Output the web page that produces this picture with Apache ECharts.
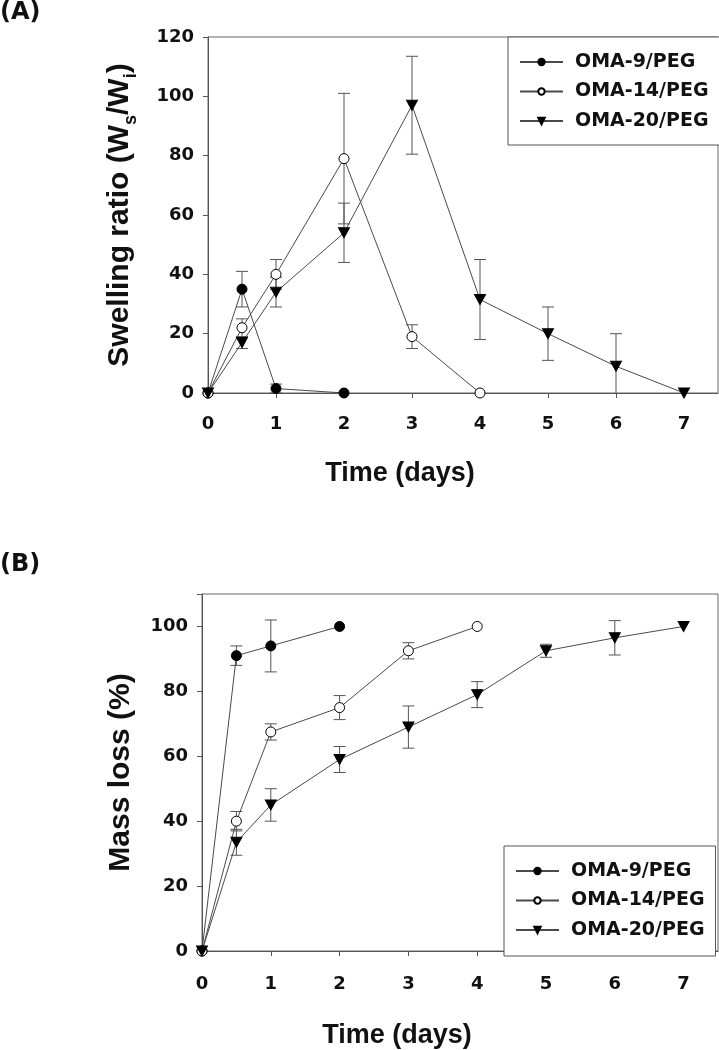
<!DOCTYPE html>
<html>
<head>
<meta charset="utf-8">
<script src="https://cdn.jsdelivr.net/npm/echarts@6/dist/echarts.min.js"></script>
<style>
html,body{margin:0;padding:0;background:#fff;}
#chart{width:719px;height:1050px;}
</style>
</head>
<body>
<div id="chart"></div>
<script>
// ---------- data ----------
var seriesNames = ['OMA-9/PEG', 'OMA-14/PEG', 'OMA-20/PEG'];
var xTickLabels = ['0', '1', '2', '3', '4', '5', '6', '7'];

// Panel A: swelling ratio (Ws/Wi)
var swellDays9  = [0, 0.5, 1, 2];
var swell9      = [0, 35, 1.5, 0];
var swell9Err   = [0, 6, 1.5, 0];

var swellDays14 = [0, 0.5, 1, 2, 3, 4];
var swell14     = [0, 22, 40, 79, 19, 0];
var swell14Err  = [0, 3, 5, 22, 4, 0];

var swellDays20 = [0, 0.5, 1, 2, 3, 4, 5, 6, 7];
var swell20     = [0, 17, 34, 54, 97, 31.5, 20, 9, 0];
var swell20Err  = [0, 2, 5, 10, 16.5, 13.5, 9, 11, 0];

// Panel B: mass loss (%)
var massDays9  = [0, 0.5, 1, 2];
var mass9      = [0, 91, 94, 100];
var mass9Err   = [0, 3, 8, 0];

var massDays14 = [0, 0.5, 1, 2, 3, 4];
var mass14     = [0, 40, 67.5, 75, 92.5, 100];
var mass14Err  = [0, 3, 2.5, 3.7, 2.5, 0];

var massDays20 = [0, 0.5, 1, 2, 3, 4, 5, 6, 7];
var mass20     = [0, 33.5, 45, 59, 69, 79, 92.5, 96.5, 100];
var mass20Err  = [0, 4, 5, 4, 6.5, 4, 2, 5.3, 0];

// ---------- helpers ----------
function pts(xs, ys) { return xs.map(function (x, i) { return [x, ys[i]]; }); }
function errPts(xs, ys, es) {
  var out = [];
  xs.forEach(function (x, i) { if (es[i] > 0) out.push([x, ys[i], es[i]]); });
  return out;
}

var tickFont = 'DejaVu Sans';
var titleFont = 'Liberation Sans';
var lineColor = '#4a4a4a';
var axisColor = '#555';

var symbols = [
  { symbol: 'circle', size: 10, color: '#000', border: '#000' },
  { symbol: 'circle', size: 10, color: '#fff', border: '#000' },
  { symbol: 'triangle', size: [11, 10], color: '#000', border: '#000', rotate: 180 }
];

function lineSeries(name, idx, data, gridIdx) {
  var s = symbols[idx];
  return {
    type: 'line', name: name, data: data,
    xAxisIndex: gridIdx, yAxisIndex: gridIdx,
    symbol: s.symbol, symbolSize: s.size, symbolRotate: s.rotate || 0,
    showAllSymbol: true, animation: false, z: 5,
    lineStyle: { color: lineColor, width: 1 },
    itemStyle: { color: s.color, borderColor: s.border, borderWidth: 1, opacity: 1 },
    emphasis: { disabled: true }
  };
}

function errorSeries(name, data, gridIdx) {
  return {
    type: 'custom', name: name + ' err', data: data,
    xAxisIndex: gridIdx, yAxisIndex: gridIdx,
    clip: true, animation: false, z: 3, silent: true,
    renderItem: function (params, api) {
      var x = api.value(0), y = api.value(1), e = api.value(2);
      var top = api.coord([x, y + e]);
      var bot = api.coord([x, y - e]);
      var hw = 6;
      var st = { stroke: '#555', lineWidth: 1 };
      return {
        type: 'group',
        children: [
          { type: 'line', shape: { x1: top[0], y1: top[1], x2: bot[0], y2: bot[1] }, style: st },
          { type: 'line', shape: { x1: top[0] - hw, y1: top[1], x2: top[0] + hw, y2: top[1] }, style: st },
          { type: 'line', shape: { x1: bot[0] - hw, y1: bot[1], x2: bot[0] + hw, y2: bot[1] }, style: st }
        ]
      };
    }
  };
}

function xAxis(gridIdx, nameGap, labelMargin) {
  return {
    type: 'value', gridIndex: gridIdx, min: 0, max: 7.5, interval: 1,
    name: 'Time (days)', nameLocation: 'middle', nameGap: nameGap,
    nameTextStyle: { fontFamily: titleFont, fontWeight: 'bold', fontSize: 27, color: '#111', padding: [0, 126, 0, 0] },
    axisLine: { show: true, lineStyle: { color: axisColor, width: 1 } },
    axisTick: { show: true, inside: false, length: 5, lineStyle: { color: axisColor } },
    splitLine: { show: false },
    axisLabel: {
      fontFamily: tickFont, fontWeight: 'bold', fontSize: 18, color: '#111', margin: labelMargin,
      showMaxLabel: false,
      formatter: function (v) { return Number.isInteger(v) ? xTickLabels[v] : ''; }
    }
  };
}

function yAxis(gridIdx, max, name, nameGap, rich) {
  var ts = { fontFamily: titleFont, fontWeight: 'bold', fontSize: 30, color: '#111', lineHeight: 30 };
  if (rich) ts.rich = rich;
  return {
    type: 'value', gridIndex: gridIdx, min: 0, max: max, interval: 20,
    name: name, nameLocation: 'middle', nameGap: nameGap,
    nameTextStyle: ts,
    axisLine: { show: true, lineStyle: { color: axisColor, width: 1 } },
    axisTick: { show: true, inside: false, length: 5, lineStyle: { color: axisColor } },
    splitLine: { show: false },
    axisLabel: {
      fontFamily: tickFont, fontWeight: 'bold', fontSize: 18, color: '#111', margin: 14,
      formatter: function (v) { return (v % 20 === 0) ? String(v) : ''; }
    }
  };
}

function legend(left, top, padBottom) {
  return {
    orient: 'vertical', left: left, top: top,
    data: seriesNames,
    borderColor: '#555', borderWidth: 1, backgroundColor: '#fff',
    padding: [15, 11, padBottom, 11], itemGap: 9.5,
    itemWidth: 43, itemHeight: 8,
    selectedMode: false,
    textStyle: { fontFamily: tickFont, fontWeight: 'bold', fontSize: 19, color: '#111', lineHeight: 20, padding: [0, 0, 0, 7] }
  };
}

var subRich = {
  sub: { fontFamily: titleFont, fontWeight: 'bold', fontSize: 18, color: '#111', verticalAlign: 'bottom', lineHeight: 40 }
};

var option = {
  backgroundColor: '#fff',
  animation: false,
  title: [
    { text: '(A)', left: 0, top: 1, padding: 0, textStyle: { fontFamily: tickFont, fontWeight: 'bold', fontSize: 24, color: '#111' } },
    { text: '(B)', left: 0, top: 553, padding: 0, textStyle: { fontFamily: tickFont, fontWeight: 'bold', fontSize: 24, color: '#111' } }
  ],
  grid: [
    { left: 208, top: 37, right: 1, height: 356, show: true, borderColor: '#666', borderWidth: 1, backgroundColor: 'transparent' },
    { left: 202, top: 594, right: 1, height: 362, show: true, borderColor: '#666', borderWidth: 1, backgroundColor: 'transparent' }
  ],
  legend: [legend(508, 37, 14), legend(504, 846, 16)],
  xAxis: [xAxis(0, 67, 22), xAxis(1, 71, 24)],
  yAxis: [
    yAxis(0, 120, 'Swelling ratio (W{sub|s}/W{sub|i})', 68, subRich),
    yAxis(1, 110, 'Mass loss (%)', 66, null)
  ],
  series: [
    lineSeries(seriesNames[0], 0, pts(swellDays9, swell9), 0),
    lineSeries(seriesNames[1], 1, pts(swellDays14, swell14), 0),
    lineSeries(seriesNames[2], 2, pts(swellDays20, swell20), 0),
    errorSeries(seriesNames[0], errPts(swellDays9, swell9, swell9Err), 0),
    errorSeries(seriesNames[1], errPts(swellDays14, swell14, swell14Err), 0),
    errorSeries(seriesNames[2], errPts(swellDays20, swell20, swell20Err), 0),
    lineSeries(seriesNames[0], 0, pts(massDays9, mass9), 1),
    lineSeries(seriesNames[1], 1, pts(massDays14, mass14), 1),
    lineSeries(seriesNames[2], 2, pts(massDays20, mass20), 1),
    errorSeries(seriesNames[0], errPts(massDays9, mass9, mass9Err), 1),
    errorSeries(seriesNames[1], errPts(massDays14, mass14, mass14Err), 1),
    errorSeries(seriesNames[2], errPts(massDays20, mass20, mass20Err), 1)
  ]
};

var chart = echarts.init(document.getElementById('chart'), null, { renderer: 'canvas' });
chart.setOption(option);
</script>
</body>
</html>
